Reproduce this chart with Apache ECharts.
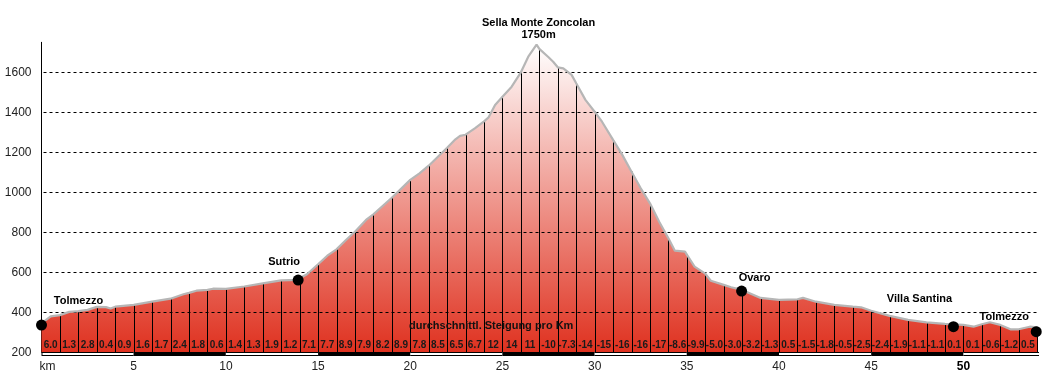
<!DOCTYPE html>
<html><head><meta charset="utf-8">
<script src="https://cdn.jsdelivr.net/npm/echarts@6/dist/echarts.min.js"></script>
<style>html,body{margin:0;padding:0;background:#fff}#c{width:1042px;height:375px}</style>
</head><body><div id="c"></div>
<script>
// ---- data ----
const profileKm = [0,0.5,1,1.5,2,2.5,3,3.5,3.75,4,5,6,7,7.7,8,8.4,9,9.3,10,11,12,13,13.85,14,14.4,15,15.5,16,16.5,17,17.6,18,19,20,20.5,21,22,22.45,22.7,23,23.5,24,24.25,24.6,25,25.5,26,26.4,26.85,27,27.5,27.75,28,28.3,28.75,29,29.5,30,30.4,31,31.5,32,32.5,33,33.5,34,34.35,34.9,35,35.42,36,36.3,37,37.4,38,38.5,39,40,41,41.3,42,43,44,44.45,45,46,47,48,49,50,50.55,51,51.43,52,52.55,53,53.6,54,54.05];
const profileElev = [345,380,386,402,406,412,427,426,419,428,437,453,468,490,497,508,512,518,517,529,545,560,562,570,590,640,683,715,760,803,862,890,973,1062,1095,1133,1223,1265,1282,1288,1320,1355,1375,1437,1478,1528,1600,1678,1738,1717,1675,1653,1625,1620,1587,1545,1462,1403,1353,1262,1187,1103,1020,945,853,770,708,703,688,628,593,558,537,525,512,492,472,462,465,472,453,437,428,425,408,382,362,350,342,337,328,340,350,337,315,315,328,325,325];
const gradientLabels = ['6.0','1.3','2.8','0.4','0.9','1.6','1.7','2.4','1.8','0.6','1.4','1.3','1.9','1.2','7.1','7.7','8.9','7.9','8.2','8.9','7.8','8.5','6.5','6.7','12','14','11','-10','-7.3','-14','-15','-16','-16','-17','-8.6','-9.9','-5.0','-3.0','-3.2','-1.3','0.5','-1.5','-1.8','-0.5','-2.5','-2.4','-1.9','-1.1','-1.1','0.1','0.1','-0.6','-1.2','0.5'];
const yTickLabels = [200,400,600,800,1000,1200,1400,1600];
const xTickLabels = [0,5,10,15,20,25,30,35,40,45,50];
const placeNames = ['Tolmezzo','Sutrio','Sella Monte Zoncolan','Ovaro','Villa Santina','Tolmezzo'];
const placeKm = [0,13.92,26.85,37.97,49.46,53.95];
const placeElev = [336,561,1750,506,328,303];
const placeHasDot = [true,true,false,true,true,true];
const gradientTitle = 'durchschnittl. Steigung pro Km';

// ---- styling ----
const FONT = '"Liberation Sans", Arial, sans-serif';
const X_MAX = 54.1, Y_MIN = 200, Y_MAX = 1750;
const labelOffsets = [[37,-24],[-14,-18],[2,-13],[13,-13],[-34,-28],[-32,-15]];

const profile = profileKm.map((k,i)=>[k, profileElev[i]]);
const kmLines = profile.filter(p=>Number.isInteger(p[0]) && p[0] > 0);

const chart = echarts.init(document.getElementById('c'));
chart.setOption({
  animation:false,
  grid:{left:41.5, right:0, top:42.3, bottom:22.7, containLabel:false},
  xAxis:{type:'value', min:0, max:X_MAX, interval:5,
    axisLine:{show:false}, axisTick:{show:false}, splitLine:{show:false},
    axisLabel:{color:'#222', fontSize:12, fontFamily:FONT, margin:8,
      formatter:v=> v===0 ? '{km|km}' : (v===50 ? '{b|50}' : (xTickLabels.includes(v) ? String(v) : '')),
      rich:{km:{padding:[0,0,0,12], fontSize:12, fontFamily:FONT, color:'#222'},
            b:{fontWeight:'bold', fontSize:12, fontFamily:FONT, color:'#000'}}}},
  yAxis:{type:'value', min:Y_MIN, max:Y_MAX, interval:200,
    axisLine:{show:true, lineStyle:{color:'#000', width:1}}, axisTick:{show:false},
    splitLine:{show:false},
    axisLabel:{color:'#222', fontSize:12, fontFamily:FONT, margin:10,
      formatter:v=> yTickLabels.includes(v) ? String(v) : ''}},
  graphic:[{type:'text', z:100, left:409, top:320,
    style:{text:gradientTitle, font:'bold 11px '+FONT, fill:'#111'}}],
  series:[
    {type:'line', data:profile, showSymbol:false, z:1, silent:true,
     lineStyle:{width:0, opacity:0},
     areaStyle:{origin:'start', opacity:1, color:new echarts.graphic.LinearGradient(0,0,0,1,[
       {offset:0,color:'#ffffff'},{offset:1,color:'#df311f'}])}},
    {type:'custom', z:2, silent:true, data:yTickLabels.filter(v=>v>Y_MIN).map(v=>[0,v]),
     renderItem:(params, api)=>{
       const p1 = api.coord([0, api.value(1)]), p2 = api.coord([X_MAX, api.value(1)]);
       const y = Math.round(p1[1]) + 0.5;
       return {type:'line', shape:{x1:p1[0]+2, y1:y, x2:p2[0]-2, y2:y},
         style:{stroke:'#000', lineWidth:1, lineDash:[3,3]}};
     }},
    {type:'custom', z:3, silent:true, data:kmLines,
     renderItem:(params, api)=>{
       const top = api.coord([api.value(0), api.value(1)]);
       const bot = api.coord([api.value(0), Y_MIN]);
       const x = Math.round(top[0]) + 0.5;
       return {type:'line', shape:{x1:x, y1:top[1], x2:x, y2:bot[1]},
         style:{stroke:'#000', lineWidth:1}};
     }},
    {type:'line', data:profile, showSymbol:false, z:4, silent:true,
     lineStyle:{color:'#b6b6b6', width:2.2}},
    {type:'custom', z:5, silent:true, data:gradientLabels.map((t,i)=>[i+0.5, Y_MIN]),
     renderItem:(params, api)=>{
       const p = api.coord([api.value(0), api.value(1)]);
       return {type:'text', x:p[0], y:p[1]-7,
         style:{text:gradientLabels[params.dataIndex], font:'bold 10px '+FONT, fill:'#1a1a1a',
           align:'center', verticalAlign:'middle'}};
     }},
    {type:'custom', z:6, silent:true, data:xTickLabels.map(v=>[v, Y_MIN]),
     renderItem:(params, api)=>{
       const s = api.value(0), e = Math.min(s+5, X_MAX);
       const p1 = api.coord([s, Y_MIN]), p2 = api.coord([e, Y_MIN]);
       const y = Math.round(p1[1]);
       const white = params.dataIndex % 2 === 0;
       const children = [{type:'rect', shape:{x:p1[0], y:y, width:p2[0]-p1[0], height:4}, style:{fill:'#000'}}];
       if (white) children.push({type:'rect', shape:{x:p1[0]+(s===0?1:0), y:y+1, width:p2[0]-p1[0]-(s===0?1:0), height:2}, style:{fill:'#fff'}});
       return {type:'group', children};
     }},
    {type:'scatter', z:7, silent:true,
     data:placeKm.map((k,i)=>({value:[k, placeElev[i]], symbolSize: placeHasDot[i] ? 11 : 0,
       label:{show:true, position:'inside', offset:labelOffsets[i],
         formatter: placeHasDot[i] ? placeNames[i] : placeNames[i] + '\n' + placeElev[i] + 'm'}})),
     itemStyle:{color:'#000', opacity:1},
     label:{color:'#000', fontWeight:'bold', fontSize:11, fontFamily:FONT, lineHeight:12, align:'center', verticalAlign:'middle'}}
  ]
});
</script></body></html>
